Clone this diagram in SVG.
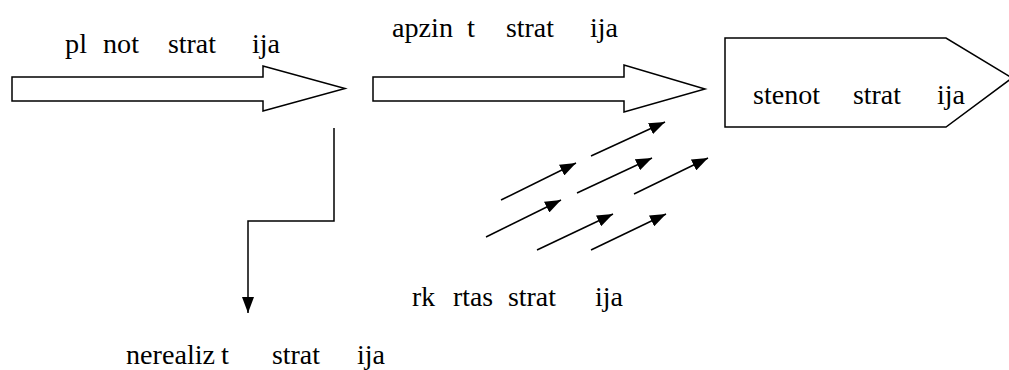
<svg xmlns="http://www.w3.org/2000/svg" width="1009" height="370" viewBox="0 0 1009 370">
<style>
text{font-family:'Liberation Serif','Times New Roman','DejaVu Serif',serif;font-size:28px;fill:#000}
.shape{fill:#fff;stroke:#000;stroke-width:1.5}
.conn{fill:none;stroke:#000;stroke-width:1.5}
</style>
<defs>
<marker id="ah" viewBox="0 0 16 12" refX="16" refY="6" markerWidth="16" markerHeight="12" markerUnits="userSpaceOnUse" orient="auto">
<path d="M0,0 L16,6 L0,12 Z" fill="#000"/>
</marker>
</defs>
<rect width="1009" height="370" fill="#fff"/>
<g id="planned">
<path class="shape" d="M12,77 L263,77 L263,66 L345,88.5 L263,111 L263,101 L12,101 Z"/>
<text x="65" y="53" textLength="22" lengthAdjust="spacingAndGlyphs">pl</text><text x="103" y="53" textLength="36" lengthAdjust="spacingAndGlyphs">not</text><text x="168" y="53" textLength="48" lengthAdjust="spacingAndGlyphs">strat</text><text x="252" y="53" textLength="28" lengthAdjust="spacingAndGlyphs">ija</text>
</g>
<g id="deliberate">
<path class="shape" d="M373,77 L624,77 L624,65 L705,89 L624,112 L624,101 L373,101 Z"/>
<text x="392" y="37" textLength="61" lengthAdjust="spacingAndGlyphs">apzin</text><text x="467" y="37" textLength="8" lengthAdjust="spacingAndGlyphs">t</text><text x="506" y="37" textLength="48" lengthAdjust="spacingAndGlyphs">strat</text><text x="590" y="37" textLength="28" lengthAdjust="spacingAndGlyphs">ija</text>
</g>
<g id="realized">
<path class="shape" d="M725,38 L946,38 L1012,78 L946,127 L725,127 Z"/>
<text x="753" y="104" textLength="67" lengthAdjust="spacingAndGlyphs">stenot</text><text x="853" y="104" textLength="48" lengthAdjust="spacingAndGlyphs">strat</text><text x="937" y="104" textLength="28" lengthAdjust="spacingAndGlyphs">ija</text>
</g>
<g id="unrealized">
<text x="126" y="364" textLength="89" lengthAdjust="spacingAndGlyphs">nerealiz</text><text x="221" y="364" textLength="8" lengthAdjust="spacingAndGlyphs">t</text><text x="272" y="364" textLength="48" lengthAdjust="spacingAndGlyphs">strat</text><text x="357" y="364" textLength="28" lengthAdjust="spacingAndGlyphs">ija</text>
</g>
<g id="emergent">
<text x="412" y="306" textLength="23" lengthAdjust="spacingAndGlyphs">rk</text><text x="453" y="306" textLength="40" lengthAdjust="spacingAndGlyphs">rtas</text><text x="508" y="306" textLength="48" lengthAdjust="spacingAndGlyphs">strat</text><text x="595" y="306" textLength="28" lengthAdjust="spacingAndGlyphs">ija</text>
</g>
<g id="connectors">
<path class="conn" d="M334,128 L334,221 L248,221 L248,313" marker-end="url(#ah)"/>
<line class="conn" x1="591" y1="156" x2="665" y2="122" marker-end="url(#ah)"/>
<line class="conn" x1="501" y1="200" x2="576" y2="163" marker-end="url(#ah)"/>
<line class="conn" x1="577" y1="193" x2="652" y2="158" marker-end="url(#ah)"/>
<line class="conn" x1="634" y1="194" x2="708" y2="158" marker-end="url(#ah)"/>
<line class="conn" x1="486" y1="237" x2="561" y2="200" marker-end="url(#ah)"/>
<line class="conn" x1="537" y1="250" x2="613" y2="214" marker-end="url(#ah)"/>
<line class="conn" x1="591" y1="250" x2="666" y2="214" marker-end="url(#ah)"/>
</g>
</svg>
